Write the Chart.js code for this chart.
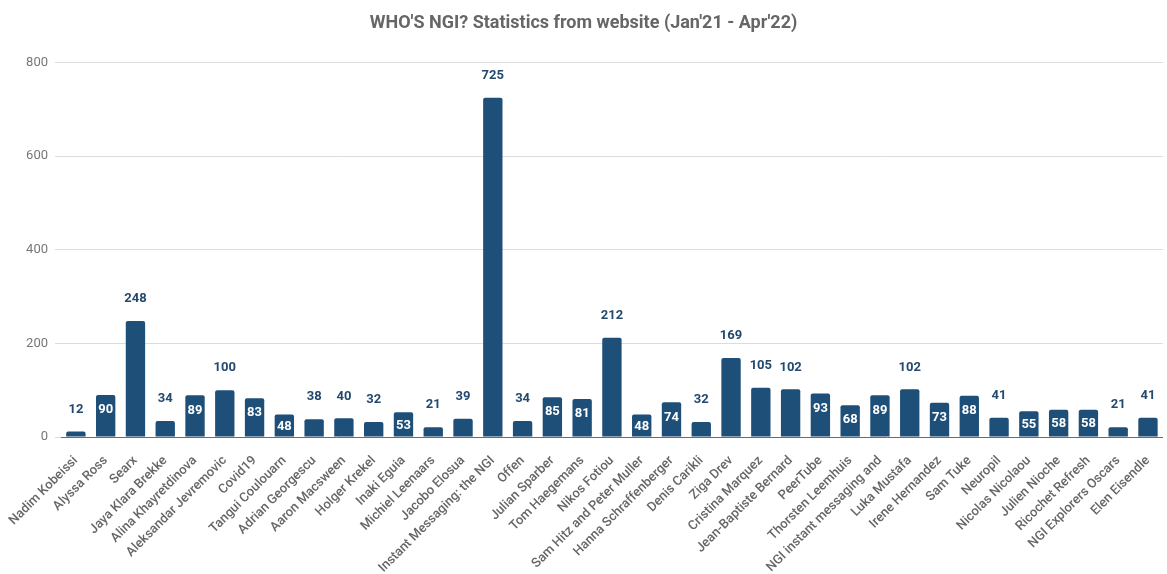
<!DOCTYPE html>
<html>
<head>
<meta charset="utf-8">
<script src="https://cdn.jsdelivr.net/npm/chart.js@4"></script>
<style>
  html, body { margin: 0; padding: 0; background: #fff; }
  #wrap { width: 1167px; height: 574px; }
</style>
</head>
<body>
<div id="wrap"><canvas id="ngiChart"></canvas></div>
<script>
// categories (speakers / topics)
const names = [
    'Nadim Kobeissi', 'Alyssa Ross', 'Searx', 'Jaya Klara Brekke', 'Alina Khayretdinova',
    'Aleksandar Jevremovic', 'Covid19', 'Tangui Coulouarn', 'Adrian Georgescu', 'Aaron Macsween',
    'Holger Krekel', 'Inaki Eguia', 'Michiel Leenaars', 'Jacobo Elosua', 'Instant Messaging: the NGI',
    'Offen', 'Julian Sparber', 'Tom Haegemans', 'Nikos Fotiou', 'Sam Hitz and Peter Muller',
    'Hanna Schraffenberger', 'Denis Carikli', 'Ziga Drev', 'Cristina Marquez', 'Jean-Baptiste Bernard',
    'PeerTube', 'Thorsten Leemhuis', 'NGI instant messaging and', 'Luka Mustafa', 'Irene Hernandez',
    'Sam Tuke', 'Neuropil', 'Nicolas Nicolaou', 'Julien Nioche', 'Ricochet Refresh',
    'NGI Explorers Oscars', 'Elen Eisendle'
];

// views per page
const views = [
    12, 90, 248, 34, 89,
    100, 83, 48, 38, 40,
    32, 53, 21, 39, 725,
    34, 85, 81, 212, 48,
    74, 32, 169, 105, 102,
    93, 68, 89, 102, 73,
    88, 41, 55, 58, 58,
    21, 41
];

// y axis ticks
const yTicks = [0, 200, 400, 600, 800];

const barColor = '#1e4f79';
const labelColor = '#24496e';

// 数值标签：中等高度的柱子写在柱内，其余写在柱顶上方
const valueLabels = {
    id: 'valueLabels',
    afterDatasetsDraw(chart) {
        const ctx = chart.ctx;
        const meta = chart.getDatasetMeta(0);
        ctx.save();
        ctx.font = 'bold 13px Roboto';
        ctx.textAlign = 'center';
        ctx.textBaseline = 'middle';
        meta.data.forEach((bar, i) => {
            const v = views[i];
            if (v >= 45 && v < 100) {
                const h = bar.base - bar.y;
                ctx.fillStyle = '#ffffff';
                ctx.fillText(String(v), bar.x, bar.y + Math.min(15, h / 2 + 1));
            } else {
                ctx.fillStyle = labelColor;
                ctx.fillText(String(v), bar.x, bar.y - 22);
            }
        });
        ctx.restore();
    }
};

const ctx = document.getElementById('ngiChart').getContext('2d');
new Chart(ctx, {
    type: 'bar',
    data: {
        labels: names,
        datasets: [{
            label: 'Views',
            data: views,
            backgroundColor: barColor,
            borderRadius: 2,
            borderSkipped: 'bottom',
            barPercentage: 0.65,
            categoryPercentage: 1
        }]
    },
    options: {
        responsive: true,
        maintainAspectRatio: false,
        animation: false,
        layout: { padding: 0 },
        plugins: {
            legend: { display: false },
            tooltip: { enabled: false },
            title: {
                display: true,
                text: "WHO'S NGI? Statistics from website (Jan'21 - Apr'22)",
                color: '#666',
                font: { family: 'Roboto', size: 18, weight: 'bold' },
                padding: { top: 13, bottom: 28 }
            }
        },
        scales: {
            x: {
                grid: { display: false },
                border: { color: '#6a6a6a', width: 1 },
                ticks: {
                    color: '#666',
                    font: { family: 'Roboto', size: 13, weight: '500' },
                    maxRotation: 45,
                    minRotation: 45,
                    autoSkip: false,
                    padding: 8
                },
                afterFit(scale) { scale.height = 137; }
            },
            y: {
                min: 0,
                max: 800,
                afterBuildTicks(scale) {
                    scale.ticks = yTicks.map(v => ({ value: v }));
                },
                grid: { color: '#dcdcdc', tickLength: 6 },
                border: { display: false },
                ticks: {
                    color: '#777',
                    font: { family: 'Roboto', size: 13 },
                    padding: 7
                },
                afterFit(scale) { scale.width = 61; }
            }
        }
    },
    plugins: [valueLabels]
});
</script>
</body>
</html>
